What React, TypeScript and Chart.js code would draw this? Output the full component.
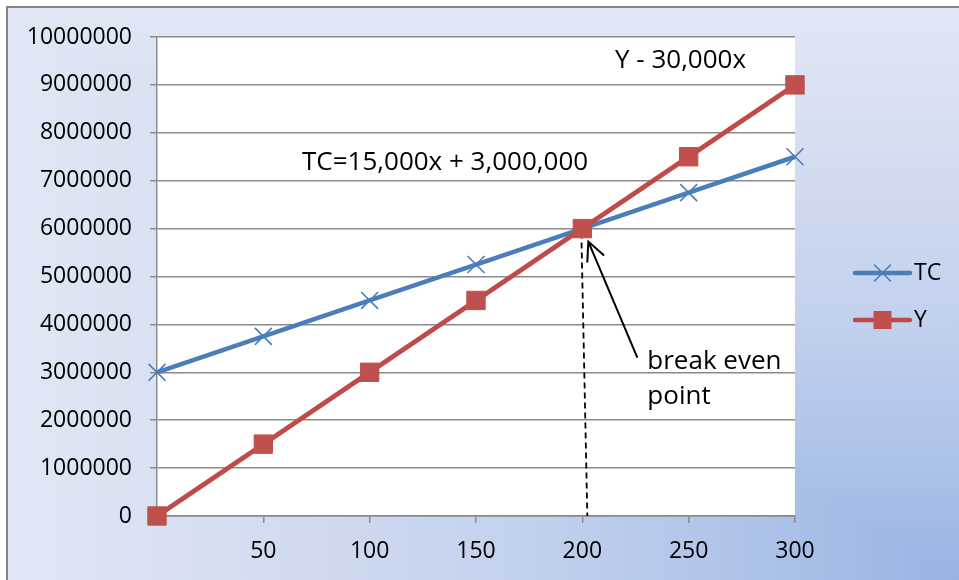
import React, { useEffect, useRef } from "react";
import { Chart, registerables } from "chart.js";

Chart.register(...registerables);

// Output quantity (x) and the two series plotted against it
const quantities = [0, 50, 100, 150, 200, 250, 300];
const xTickLabels = ["", "50", "100", "150", "200", "250", "300"];
const totalCost = [3000000, 3750000, 4500000, 5250000, 6000000, 6750000, 7500000];
const revenue = [0, 1500000, 3000000, 4500000, 6000000, 7500000, 9000000];
const seriesNames = ["TC", "Y"];

// Value axis
const yMin = 0;
const yMax = 10000000;
const yStep = 1000000;

// Notes written on the plot
const revenueNote = "Y - 30,000x";
const costNote = "TC=15,000x + 3,000,000";
const breakEvenNote = ["break even", "point"];

const FONT = "'Open Sans', 'Noto Sans', sans-serif";
const BLUE = "#4a7ebb";
const RED = "#be4b48";
const RED_FILL = "#c0504d";
const GRID = "#8a8a8a";
const BG_STOPS: [number, string][] = [
  [0, "#98b3e2"],
  [0.25, "#b1c5ea"],
  [0.5, "#c5d3ee"],
  [0.75, "#d4ddf1"],
  [1, "#e1e7f4"],
];

function drawCross(ctx: CanvasRenderingContext2D, x: number, y: number, h: number, color: string) {
  ctx.save();
  ctx.strokeStyle = color;
  ctx.lineWidth = 1.6;
  ctx.beginPath();
  ctx.moveTo(x - h, y - h);
  ctx.lineTo(x + h, y + h);
  ctx.moveTo(x - h, y + h);
  ctx.lineTo(x + h, y - h);
  ctx.stroke();
  ctx.restore();
}

// Corner gradient: darkest at the bottom-right corner, shading along a rectangular path
function fillCornerGradient(ctx: CanvasRenderingContext2D, x0: number, y0: number, x1: number, y1: number) {
  const gx = ctx.createLinearGradient(x1, 0, x0, 0);
  const gy = ctx.createLinearGradient(0, y1, 0, y0);
  BG_STOPS.forEach(([o, c]) => {
    gx.addColorStop(o, c);
    gy.addColorStop(o, c);
  });
  // whole area with horizontal shading
  ctx.save();
  ctx.fillStyle = gx;
  ctx.fillRect(x0, y0, x1 - x0, y1 - y0);
  // upper-right triangle takes vertical shading (equal along the diagonal)
  ctx.beginPath();
  ctx.moveTo(x0, y0);
  ctx.lineTo(x1, y0);
  ctx.lineTo(x1, y1);
  ctx.closePath();
  ctx.fillStyle = gy;
  ctx.fill();
  ctx.restore();
}

const decor = {
  id: "decor",
  beforeDraw(chart: any) {
    const { ctx, width, height, chartArea: a } = chart;
    ctx.save();
    ctx.fillStyle = "#ffffff";
    ctx.fillRect(0, 0, width, height);
    fillCornerGradient(ctx, 7, 7, width, height);
    ctx.strokeStyle = "#858585";
    ctx.lineWidth = 2;
    ctx.beginPath();
    ctx.moveTo(7, height);
    ctx.lineTo(7, 7);
    ctx.lineTo(width, 7);
    ctx.stroke();
    ctx.fillStyle = "#ffffff";
    ctx.fillRect(a.left, a.top, a.right - a.left, a.bottom - a.top);
    ctx.restore();
  },
  beforeDatasetsDraw(chart: any) {
    const { ctx, chartArea: a, scales } = chart;
    const idx = totalCost.findIndex((v, i) => v === revenue[i] && v > 0);
    const px = scales.x.getPixelForValue(idx);
    const py = scales.y.getPixelForValue(revenue[idx]);
    // drop line from the break-even point to the quantity axis
    ctx.save();
    ctx.strokeStyle = "#000";
    ctx.lineWidth = 1.8;
    ctx.setLineDash([6, 4]);
    ctx.beginPath();
    ctx.moveTo(px - 1, py + 4);
    ctx.lineTo(px + 5, a.bottom);
    ctx.stroke();
    ctx.restore();
  },
  afterDatasetsDraw(chart: any) {
    const { ctx, chartArea: a, scales } = chart;
    const idx = totalCost.findIndex((v, i) => v === revenue[i] && v > 0);
    const px = scales.x.getPixelForValue(idx);
    const py = scales.y.getPixelForValue(revenue[idx]);

    ctx.save();
    // arrow pointing at the break-even point
    const tipX = px + 6;
    const tipY = py + 13;
    const tailX = px + 55;
    const tailY = py + 129;
    ctx.strokeStyle = "#000";
    ctx.lineWidth = 2;
    ctx.beginPath();
    ctx.moveTo(tailX, tailY);
    ctx.lineTo(tipX, tipY);
    const ang = Math.atan2(tipY - tailY, tipX - tailX);
    const head = 21;
    const spread = 0.45;
    ctx.moveTo(tipX - head * Math.cos(ang - spread), tipY - head * Math.sin(ang - spread));
    ctx.lineTo(tipX, tipY);
    ctx.lineTo(tipX - head * Math.cos(ang + spread), tipY - head * Math.sin(ang + spread));
    ctx.stroke();

    // notes
    ctx.fillStyle = "#000";
    ctx.textBaseline = "middle";
    ctx.textAlign = "left";
    ctx.font = `26px ${FONT}`;
    ctx.fillText(revenueNote, a.left + 458, a.top + 24);
    ctx.fillText(costNote, a.left + 145, a.top + 126);
    ctx.fillText(breakEvenNote[0], px + 65, py + 133);
    ctx.fillText(breakEvenNote[1], px + 65, py + 168);

    // legend: line with marker, then series name
    const ds = chart.data.datasets;
    const lx0 = a.right + 60;
    const lx1 = a.right + 115;
    const lxm = (lx0 + lx1) / 2;
    ctx.font = `23px ${FONT}`;
    ds.forEach((d: any, i: number) => {
      const ly = a.top + 236 + i * 47;
      ctx.strokeStyle = d.borderColor;
      ctx.lineWidth = 4.5;
      ctx.lineCap = "round";
      ctx.beginPath();
      ctx.moveTo(lx0, ly);
      ctx.lineTo(lx1, ly);
      ctx.stroke();
      if (d.pointStyle === "rect") {
        ctx.fillStyle = d.pointBackgroundColor;
        ctx.fillRect(lxm - 9, ly - 9, 18, 18);
      } else {
        drawCross(ctx, lxm, ly, 8, d.pointBorderColor);
      }
      ctx.fillStyle = "#000";
      ctx.fillText(d.label, lx1 + 4, ly);
    });
    ctx.restore();
  },
};

export default function App() {
  const ref = useRef<HTMLCanvasElement | null>(null);

  useEffect(() => {
    if (!ref.current) return;
    const chart = new Chart(ref.current, {
      type: "line",
      data: {
        labels: quantities.map(String),
        datasets: [
          {
            label: seriesNames[0],
            data: totalCost,
            borderColor: BLUE,
            backgroundColor: BLUE,
            borderWidth: 4.5,
            pointStyle: "crossRot",
            pointRadius: 12,
            pointBorderWidth: 1.6,
            pointBorderColor: BLUE,
            pointBackgroundColor: BLUE,
            tension: 0,
            clip: false,
            order: 1,
          },
          {
            label: seriesNames[1],
            data: revenue,
            borderColor: RED,
            backgroundColor: RED_FILL,
            borderWidth: 4.8,
            pointStyle: "rect",
            pointRadius: 13,
            pointBorderWidth: 1,
            pointBorderColor: RED_FILL,
            pointBackgroundColor: RED_FILL,
            tension: 0,
            clip: false,
            order: 0,
          },
        ],
      },
      options: {
        responsive: false,
        animation: false,
        events: [],
        devicePixelRatio: 1,
        layout: { padding: { left: 0, top: 37, right: 164, bottom: 0 } },
        plugins: {
          legend: { display: false },
          tooltip: { enabled: false },
          title: { display: false },
        },
        scales: {
          x: {
            type: "category",
            offset: false,
            grid: {
              display: true,
              drawOnChartArea: false,
              drawTicks: true,
              tickLength: 7,
              color: GRID,
              lineWidth: 1.5,
            },
            border: { display: true, color: GRID, width: 1.5 },
            ticks: {
              autoSkip: false,
              maxRotation: 0,
              padding: 15,
              color: "#000",
              font: { family: FONT, size: 23 },
              callback: (_v: any, i: number) => xTickLabels[i],
            },
            afterFit: (s: any) => {
              s.height = 64;
            },
          },
          y: {
            min: yMin,
            max: yMax,
            grid: {
              color: GRID,
              lineWidth: 1.5,
              tickLength: 7,
              drawTicks: true,
            },
            border: { display: true, color: GRID, width: 1.5 },
            ticks: {
              stepSize: yStep,
              padding: 18,
              color: "#000",
              font: { family: FONT, size: 23 },
              callback: (v: any) => String(v),
            },
            afterFit: (s: any) => {
              s.width = 157;
            },
          },
        },
      },
      plugins: [decor],
    });
    return () => chart.destroy();
  }, []);

  return (
    <div style={{ position: "fixed", left: 0, top: 0, width: 959, height: 580 }}>
      <canvas ref={ref} width={959} height={580} style={{ display: "block", width: 959, height: 580 }} />
    </div>
  );
}
